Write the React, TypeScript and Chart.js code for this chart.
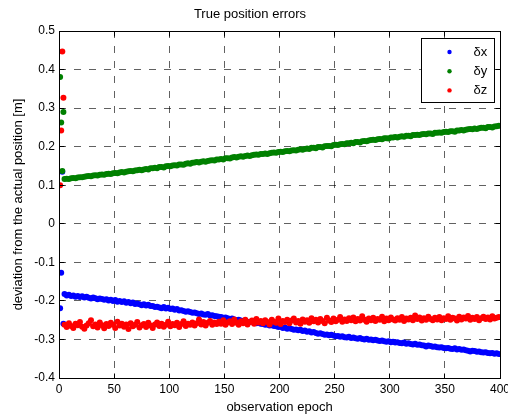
import { useEffect, useRef } from 'react';
import { Chart, registerables } from 'chart.js';

Chart.register(...registerables);

const FONT = "'Liberation Sans', Arial, Helvetica, sans-serif";

const TITLE = 'True position errors';
const X_TITLE = 'observation epoch';
const Y_TITLE = 'deviation from the actual position [m]';

const SERIES_LABELS = ['\u03b4x', '\u03b4y', '\u03b4z'];
const SERIES_COLORS = ['#0000ff', '#008000', '#ff0000'];

const X_TICKS = [0, 50, 100, 150, 200, 250, 300, 350, 400];
const X_TICK_LABELS = ['0', '50', '100', '150', '200', '250', '300', '350', '400'];
const Y_TICKS = [-0.4, -0.3, -0.2, -0.1, 0, 0.1, 0.2, 0.3, 0.4, 0.5];
const Y_TICK_LABELS = ['-0.4', '-0.3', '-0.2', '-0.1', '0', '0.1', '0.2', '0.3', '0.4', '0.5'];

// start-up epochs before the filter settles (metres)
const LEAD_EPOCHS = [1, 2, 3, 4];
const DX_LEAD = [-0.219, -0.127, 0.135, -0.259];
const DY_LEAD = [0.381, 0.263, 0.137, 0.29];
const DZ_LEAD = [0.1, 0.242, 0.447, 0.327];

// settled track, one value every TRACK_STEP epochs from TRACK_START (millimetres)
const TRACK_START = 5;
const TRACK_STEP = 2;

const DX_TRACK = [
  -182, -186, -184, -187, -186, -189, -187, -190, -188, -191,
  -189, -192, -194, -191, -193, -196, -194, -195, -197, -196,
  -199, -197, -200, -198, -202, -200, -203, -201, -205, -203,
  -206, -204, -208, -207, -209, -211, -209, -212, -210, -213,
  -213, -216, -215, -217, -219, -216, -220, -218, -221, -220,
  -223, -221, -225, -224, -226, -228, -227, -229, -231, -230,
  -232, -234, -233, -235, -236, -234, -238, -237, -239, -240,
  -241, -242, -244, -243, -245, -247, -246, -248, -250, -249,
  -251, -252, -251, -254, -255, -253, -256, -258, -257, -259,
  -260, -262, -261, -264, -263, -265, -266, -268, -267, -270,
  -269, -272, -271, -273, -275, -274, -276, -275, -278, -277,
  -280, -279, -282, -281, -283, -285, -284, -286, -288, -287,
  -289, -288, -290, -292, -291, -293, -292, -294, -295, -293,
  -296, -295, -297, -298, -296, -299, -300, -298, -301, -300,
  -302, -301, -303, -304, -303, -305, -306, -305, -307, -306,
  -308, -307, -309, -310, -308, -311, -310, -312, -313, -311,
  -314, -313, -315, -316, -318, -316, -317, -319, -318, -320,
  -321, -320, -322, -323, -322, -324, -325, -323, -326, -325,
  -327, -326, -328, -329, -331, -329, -330, -332, -331, -333,
  -334, -333, -335, -336, -335, -337, -336, -338,
];

const DY_TRACK = [
  116, 117, 116, 118, 119, 118, 120, 121, 121, 122,
  123, 124, 123, 125, 126, 125, 127, 128, 127, 129,
  130, 129, 131, 132, 131, 133, 134, 133, 135, 136,
  137, 136, 138, 139, 140, 139, 141, 142, 141, 144,
  144, 145, 144, 147, 147, 146, 149, 150, 149, 151,
  152, 151, 154, 154, 153, 156, 157, 156, 158, 159,
  160, 159, 161, 162, 161, 163, 164, 165, 164, 167,
  167, 168, 167, 170, 170, 169, 172, 173, 172, 174,
  175, 174, 176, 177, 176, 178, 179, 180, 179, 181,
  181, 182, 181, 183, 184, 185, 184, 186, 187, 186,
  188, 189, 188, 190, 191, 190, 192, 193, 192, 194,
  195, 194, 197, 197, 196, 199, 199, 198, 201, 202,
  202, 201, 204, 205, 204, 206, 207, 206, 209, 209,
  210, 209, 212, 212, 211, 214, 215, 214, 216, 217,
  218, 217, 219, 220, 219, 222, 222, 221, 224, 224,
  225, 224, 226, 227, 226, 228, 228, 227, 230, 230,
  231, 230, 232, 233, 232, 234, 234, 233, 236, 236,
  237, 236, 238, 239, 238, 240, 240, 239, 242, 242,
  243, 242, 244, 245, 246, 245, 247, 246, 248, 249,
  249, 248, 251, 251, 250, 252, 253, 254,
];

const DZ_TRACK = [
  -262, -268, -258, -265, -270, -259, -263, -255, -267, -272,
  -264, -258, -250, -266, -261, -269, -256, -263, -271, -260,
  -265, -257, -262, -270, -254, -264, -259, -267, -261, -273,
  -258, -266, -262, -255, -269, -263, -260, -268, -257, -264,
  -270, -261, -256, -265, -259, -267, -262, -254, -266, -260,
  -263, -257, -268, -260, -253, -265, -259, -262, -256, -264,
  -258, -248, -261, -255, -264, -257, -252, -262, -256, -260,
  -254, -259, -250, -262, -256, -253, -260, -248, -257, -262,
  -253, -258, -249, -261, -255, -251, -259, -247, -256, -252,
  -258, -250, -255, -261, -249, -254, -257, -246, -260, -252,
  -255, -249, -258, -251, -246, -256, -252, -259, -248, -254,
  -250, -257, -245, -253, -249, -256, -247, -252, -258, -244,
  -251, -255, -246, -253, -249, -242, -254, -248, -252, -245,
  -250, -243, -253, -247, -251, -240, -249, -254, -246, -250,
  -244, -252, -247, -249, -241, -253, -246, -250, -243, -248,
  -251, -245, -249, -242, -252, -246, -248, -244, -250, -238,
  -247, -243, -251, -245, -249, -241, -247, -250, -244, -248,
  -242, -250, -245, -247, -240, -249, -244, -246, -251, -241,
  -248, -243, -246, -239, -249, -244, -247, -242, -250, -245,
  -241, -247, -243, -248, -240, -246, -244, -242,
];

type Pt = { x: number; y: number };

function buildSeries(lead: number[], trackMm: number[]): Pt[] {
  const head = lead.map((y, i) => ({ x: LEAD_EPOCHS[i], y }));
  const tail = trackMm.map((mm, i) => ({ x: TRACK_START + TRACK_STEP * i, y: mm / 1000 }));
  return [...head, ...tail];
}

const align = (p: number) => Math.round(p - 0.5) + 0.5;

// MATLAB-style box, inward tick marks and boxed legend
const axesBoxPlugin = {
  id: 'axesBox',
  afterDraw(chart: any) {
    const { ctx, chartArea: a, scales } = chart;
    const L = align(a.left);
    const R = align(a.right);
    const T = align(a.top);
    const B = align(a.bottom);
    const tick = 5;

    ctx.save();
    ctx.strokeStyle = '#000';
    ctx.lineWidth = 1;
    ctx.setLineDash([]);
    ctx.beginPath();
    for (const v of X_TICKS) {
      const x = align(scales.x.getPixelForValue(v));
      ctx.moveTo(x, B);
      ctx.lineTo(x, B - tick);
      ctx.moveTo(x, T);
      ctx.lineTo(x, T + tick);
    }
    for (const v of Y_TICKS) {
      const y = align(scales.y.getPixelForValue(v));
      ctx.moveTo(L, y);
      ctx.lineTo(L + tick, y);
      ctx.moveTo(R, y);
      ctx.lineTo(R - tick, y);
    }
    ctx.stroke();
    ctx.strokeRect(L, T, R - L, B - T);

    // legend
    const boxW = 73;
    const boxH = 64;
    const bx = R - 6 - boxW;
    const by = T + 7;
    ctx.fillStyle = '#fff';
    ctx.fillRect(bx, by, boxW, boxH);
    ctx.strokeRect(bx, by, boxW, boxH);
    ctx.font = `13px ${FONT}`;
    ctx.textBaseline = 'middle';
    ctx.textAlign = 'left';
    chart.data.datasets.forEach((ds: any, i: number) => {
      const cy = by + 13.5 + i * 19.2;
      ctx.fillStyle = ds.backgroundColor;
      ctx.beginPath();
      ctx.arc(bx + 28, cy, 2.2, 0, Math.PI * 2);
      ctx.fill();
      ctx.fillStyle = '#000';
      ctx.fillText(ds.label, bx + 52, cy);
    });
    ctx.restore();
  },
};

export default function App() {
  const ref = useRef<HTMLCanvasElement | null>(null);

  useEffect(() => {
    if (!ref.current) return;
    const series = [
      buildSeries(DX_LEAD, DX_TRACK),
      buildSeries(DY_LEAD, DY_TRACK),
      buildSeries(DZ_LEAD, DZ_TRACK),
    ];
    const gridColor = 'rgba(0,0,0,0.62)';
    const chart = new Chart(ref.current, {
      type: 'scatter',
      data: {
        datasets: series.map((data, i) => ({
          label: SERIES_LABELS[i],
          data,
          backgroundColor: SERIES_COLORS[i],
          borderColor: SERIES_COLORS[i],
          pointRadius: 3,
          pointBorderWidth: 0,
          pointHoverRadius: 3,
          order: 3 - i,
        })),
      },
      options: {
        animation: false,
        responsive: false,
        devicePixelRatio: 1,
        events: [],
        layout: { padding: { left: 0, right: 8, top: 0, bottom: 0 } },
        plugins: {
          legend: { display: false },
          tooltip: { enabled: false },
          title: {
            display: true,
            text: TITLE,
            color: '#000',
            font: { family: FONT, size: 13, weight: 'normal' },
            padding: { top: 7, bottom: 8.4 },
          },
        },
        scales: {
          x: {
            type: 'linear',
            min: 0,
            max: 400,
            afterBuildTicks: (s: any) => {
              s.ticks = X_TICKS.map((value) => ({ value }));
            },
            afterFit: (s: any) => {
              s.height = 38;
              s.paddingLeft = 0;
              s.paddingRight = 0;
            },
            ticks: {
              color: '#000',
              font: { family: FONT, size: 12 },
              padding: 4,
              maxRotation: 0,
              autoSkip: false,
              callback: (_v: any, i: number) => X_TICK_LABELS[i],
            },
            grid: { color: gridColor, lineWidth: 1, drawTicks: false },
            border: { display: false, dash: [7, 8] },
            title: {
              display: true,
              text: X_TITLE,
              color: '#000',
              font: { family: FONT, size: 13 },
              padding: { top: 0, bottom: 0.5 },
            },
          },
          y: {
            type: 'linear',
            min: -0.4,
            max: 0.5,
            afterBuildTicks: (s: any) => {
              s.ticks = Y_TICKS.map((value) => ({ value }));
            },
            afterFit: (s: any) => {
              s.width = 59;
              s.paddingTop = 0;
              s.paddingBottom = 0;
            },
            ticks: {
              color: '#000',
              font: { family: FONT, size: 12 },
              padding: 4,
              autoSkip: false,
              callback: (_v: any, i: number) => Y_TICK_LABELS[i],
            },
            grid: { color: gridColor, lineWidth: 1, drawTicks: false },
            border: { display: false, dash: [7, 8] },
            title: {
              display: true,
              text: Y_TITLE,
              color: '#000',
              font: { family: FONT, size: 13 },
              padding: { top: 10.2, bottom: 0 },
            },
          },
        },
      },
      plugins: [axesBoxPlugin],
    } as any);
    return () => chart.destroy();
  }, []);

  return (
    <div style={{ position: 'fixed', left: 0, top: 0, width: 508, height: 416, background: '#fff' }}>
      <canvas ref={ref} width={508} height={416} style={{ display: 'block' }} />
    </div>
  );
}
